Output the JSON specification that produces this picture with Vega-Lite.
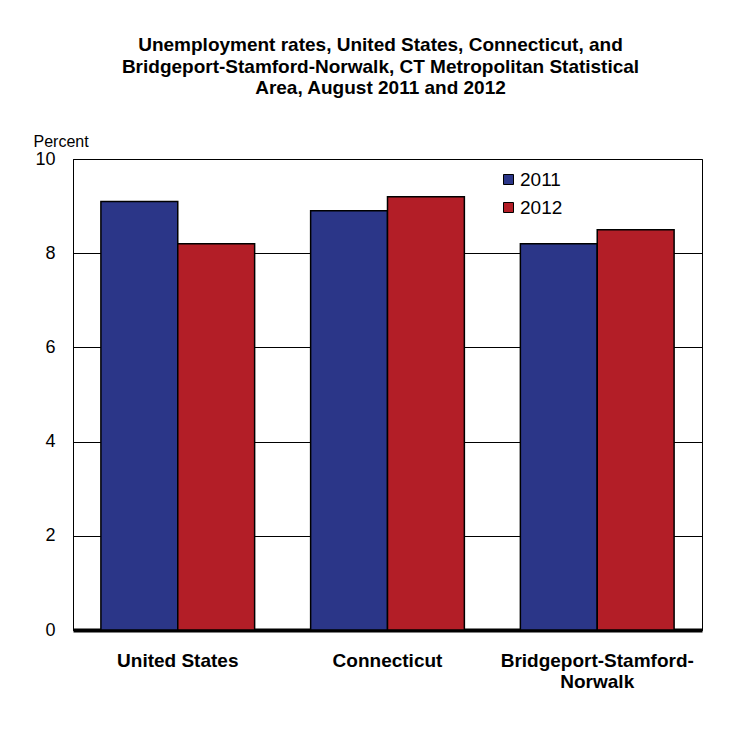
{
  "$schema": "https://vega.github.io/schema/vega-lite/v6.json",
  "autosize": {"type": "none"},
  "padding": {"left": 73, "top": 159, "right": 27, "bottom": 111},
  "width": 629,
  "height": 471,
  "background": "white",
  "title": {
    "text": ["Unemployment rates, United States, Connecticut, and", "Bridgeport-Stamford-Norwalk, CT Metropolitan Statistical", "Area, August 2011 and 2012"],
    "font": "Liberation Sans",
    "fontSize": 19,
    "fontWeight": "bold",
    "lineHeight": 21.5,
    "anchor": "middle",
    "dx": -7,
    "offset": 35,
    "color": "black"
  },
  "data": {
    "values": [
      {"area": "United States", "year": "2011", "rate": 9.1},
      {"area": "United States", "year": "2012", "rate": 8.2},
      {"area": "Connecticut", "year": "2011", "rate": 8.9},
      {"area": "Connecticut", "year": "2012", "rate": 9.2},
      {"area": "Bridgeport-Stamford-Norwalk", "year": "2011", "rate": 8.2},
      {"area": "Bridgeport-Stamford-Norwalk", "year": "2012", "rate": 8.5}
    ]
  },
  "mark": {"type": "bar", "stroke": "black", "strokeWidth": 1.5},
  "encoding": {
    "x": {
      "field": "area",
      "type": "nominal",
      "sort": null,
      "scale": {"paddingInner": 0.267, "paddingOuter": 0.133},
      "axis": {
        "title": null,
        "labelAngle": 0,
        "labelFont": "Liberation Sans",
        "labelFontSize": 19,
        "labelFontWeight": "bold",
        "labelColor": "black",
        "labelPadding": 21,
        "labelLineHeight": 21,
        "labelLimit": 0,
        "labelExpr": "datum.label == 'Bridgeport-Stamford-Norwalk' ? ['Bridgeport-Stamford-', 'Norwalk'] : datum.label",
        "ticks": false,
        "domainColor": "black",
        "domainWidth": 4,
        "domainCap": "butt"
      }
    },
    "xOffset": {"field": "year", "type": "nominal", "scale": {"paddingInner": 0, "paddingOuter": 0}},
    "y": {
      "field": "rate",
      "type": "quantitative",
      "scale": {"domain": [0, 10]},
      "axis": {
        "title": "Percent",
        "titleAngle": 0,
        "titleAlign": "left",
        "titleBaseline": "alphabetic",
        "titleX": -40,
        "titleY": -13,
        "titleFont": "Liberation Sans",
        "titleFontSize": 16,
        "titleFontWeight": "normal",
        "titleColor": "black",
        "values": [0, 2, 4, 6, 8, 10],
        "labelFont": "Liberation Sans",
        "labelFontSize": 18,
        "labelColor": "black",
        "labelPadding": 18,
        "ticks": false,
        "grid": true,
        "gridColor": "black",
        "gridWidth": 1,
        "gridOpacity": 1,
        "domainColor": "black",
        "domainWidth": 1
      }
    },
    "color": {
      "field": "year",
      "type": "nominal",
      "scale": {"domain": ["2011", "2012"], "range": ["#2B3688", "#B31E27"]},
      "legend": {
        "title": null,
        "orient": "none",
        "legendX": 426,
        "legendY": 11,
        "symbolType": "square",
        "symbolSize": 100,
        "symbolStrokeColor": "black",
        "symbolStrokeWidth": 1,
        "labelFont": "Liberation Sans",
        "labelFontSize": 19,
        "labelColor": "black",
        "labelOffset": 2,
        "rowPadding": 8,
        "padding": 0
      }
    }
  },
  "config": {
    "view": {"stroke": "black", "strokeWidth": 1}
  }
}
